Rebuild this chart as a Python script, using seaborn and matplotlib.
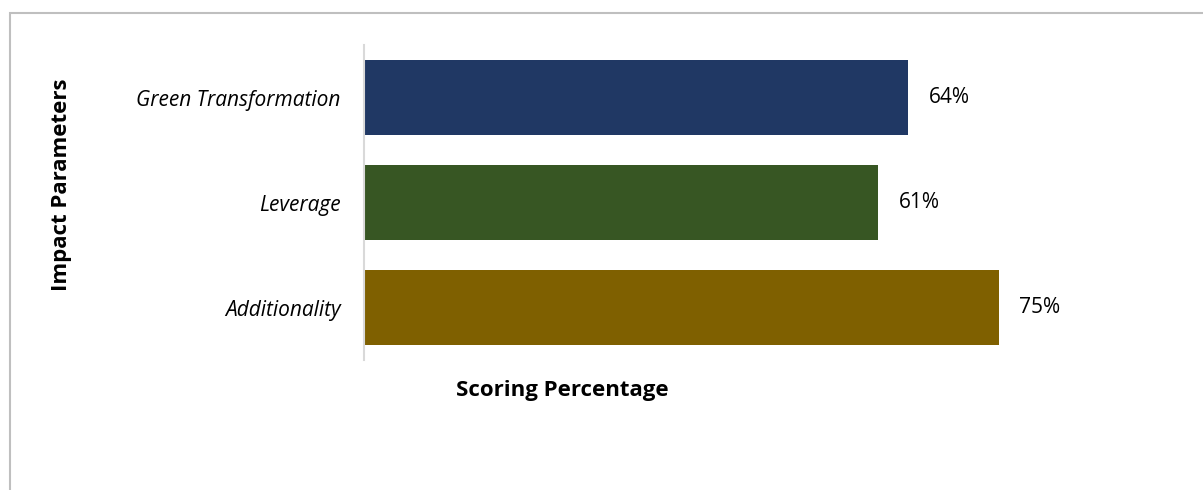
import pandas as pd
import matplotlib.pyplot as plt
import seaborn as sns
from matplotlib.patches import Rectangle

# chart values
parameters = ["Green Transformation", "Leverage", "Additionality"]
scores = [0.643, 0.607, 0.750]
bar_colors = ["#203864", "#375623", "#7F6000"]

df = pd.DataFrame({"Parameter": parameters, "Score": scores})

sns.set_theme(style="white")
plt.rcParams["font.family"] = ["Open Sans", "DejaVu Sans"]

fig = plt.figure(figsize=(12.03, 4.9), dpi=100)
# outer chart border (light gray, cut by the image edge on right/bottom)
fig.patches.append(Rectangle((10 / 1203, -0.1), 1.2, 1.1 - 13 / 490,
                             transform=fig.transFigure, fill=False,
                             edgecolor="#BFBFBF", linewidth=1.5))

ax = fig.add_axes([364 / 1203, 1 - 360 / 490, (1190 - 364) / 1203, 315 / 490])
sns.barplot(data=df, x="Score", y="Parameter", hue="Parameter",
            palette=bar_colors, width=0.714, ax=ax, legend=False,
            saturation=1, linewidth=0)

ax.set_xlim(0, (1190 - 364) / 846)
ax.set_ylim(2.5, -0.5)
ax.set_xticks([])
for s in ["top", "right", "bottom"]:
    ax.spines[s].set_visible(False)
ax.spines["left"].set_color("#D9D9D9")
ax.spines["left"].set_linewidth(1.5)

ax.tick_params(axis="y", length=0, pad=17, labelsize=15)
for lbl in ax.get_yticklabels():
    lbl.set_fontstyle("italic")
    lbl.set_color("black")

for i, v in enumerate(scores):
    ax.annotate(f"{v:.0%}", (v, i), xytext=(21, 0), textcoords="offset pixels",
                va="center", ha="left", fontsize=15, color="black")

ax.set_ylabel("")
ax.set_xlabel("")
fig.text(62 / 1203, 1 - 185 / 490, "Impact Parameters", rotation=90,
         ha="center", va="center", fontsize=16, fontweight="bold", color="black")
fig.text(562 / 1203, 1 - 390 / 490, "Scoring Percentage",
         ha="center", va="center", fontsize=16, fontweight="bold", color="black")

fig.savefig("out.png", dpi=100)
